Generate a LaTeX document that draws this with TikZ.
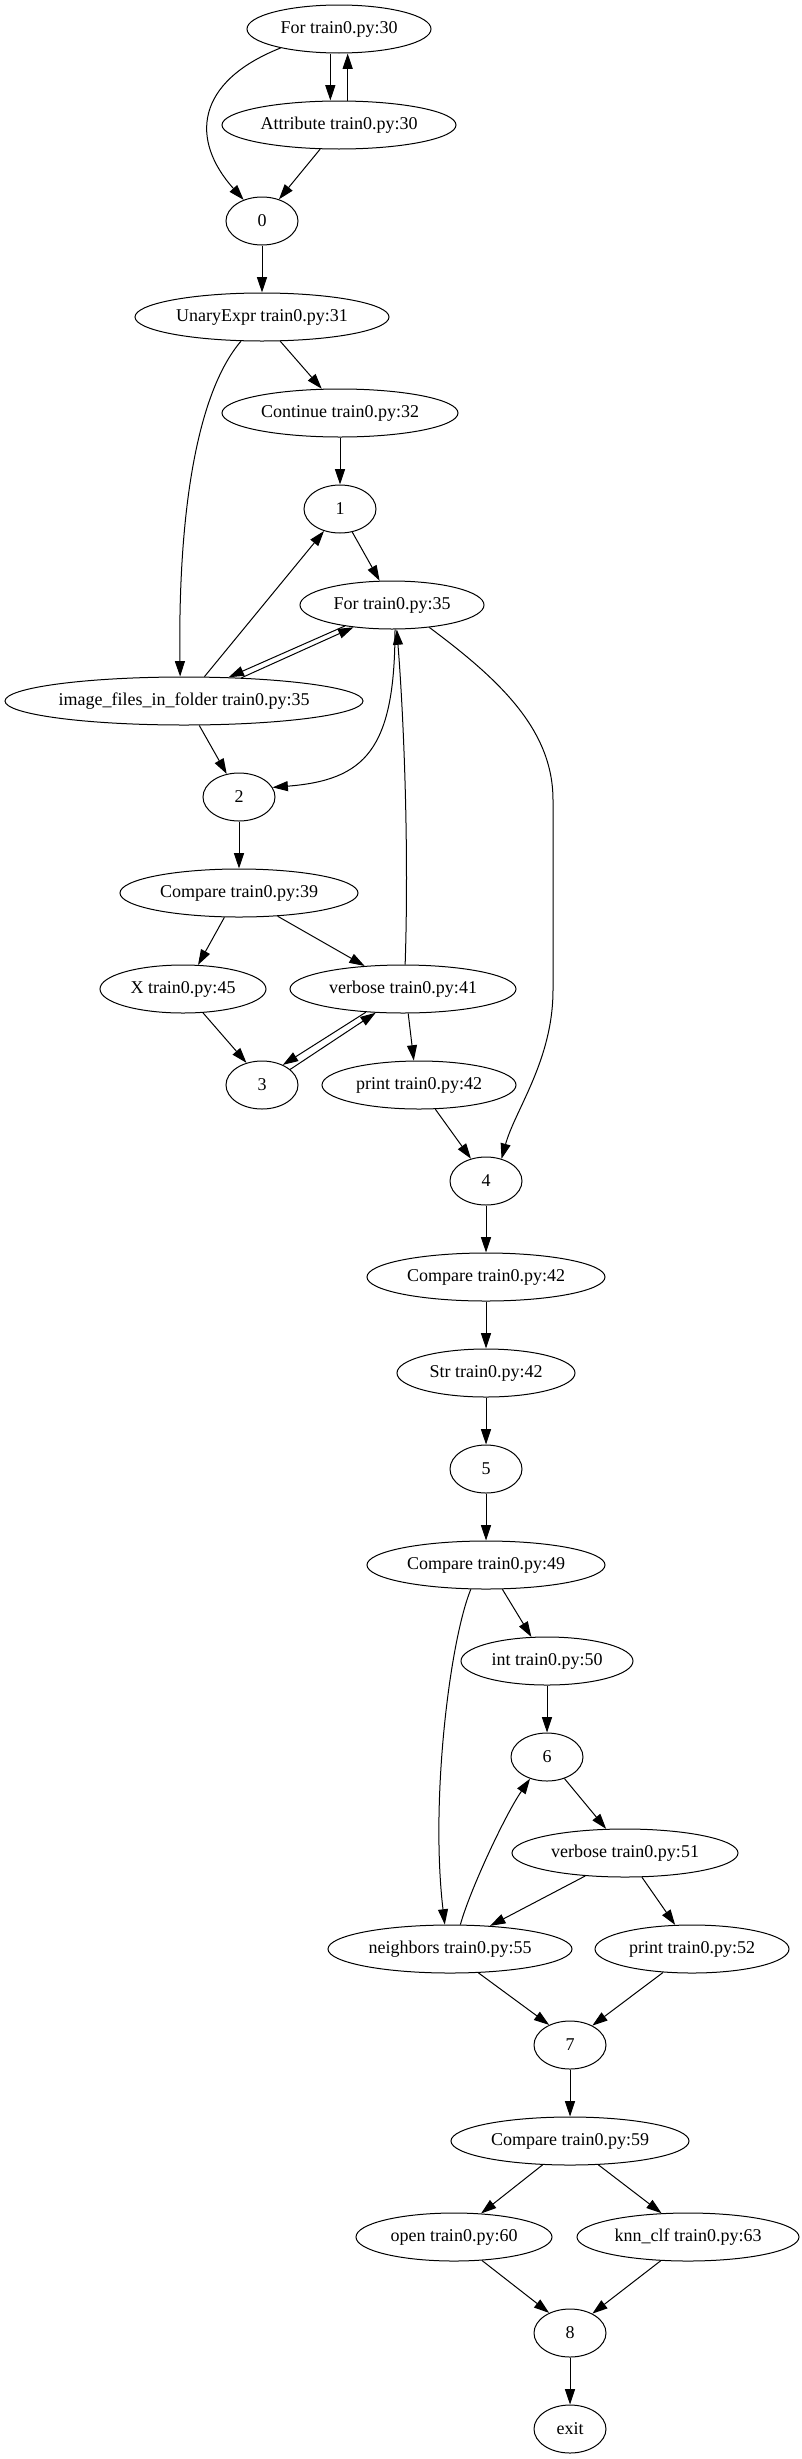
\documentclass[tikz,border=0pt]{standalone}
\usepackage{fontspec}
\setmainfont{Liberation Serif}
\usetikzlibrary{arrows.meta,shapes.geometric}
\tikzset{
  nd/.style={draw, ellipse, line width=0.75pt, inner xsep=-6pt, inner ysep=0pt,
             minimum height=36pt, font=\fontsize{13.5pt}{16pt}\selectfont},
  hw/.style={minimum width=1.5pt*#1},
  edge/.style={draw, line width=0.75pt, -{Triangle[length=11.5pt,width=7.5pt]}},
}
\begin{document}
\begin{tikzpicture}[x=0.75pt,y=-0.75pt]
\useasboundingbox (0,0) rectangle (801,2459);
\node[nd,hw=92] (for30) at (339,29) {For train0.py:30};
\node[nd,hw=117] (attr30) at (339,125) {Attribute train0.py:30};
\node[nd,hw=36] (n0) at (262,221) {0};
\node[nd,hw=127] (unary) at (262,317) {UnaryExpr train0.py:31};
\node[nd,hw=118] (cont) at (340,413) {Continue train0.py:32};
\node[nd,hw=36] (n1) at (340,509) {1};
\node[nd,hw=92] (for35) at (392,605) {For train0.py:35};
\node[nd,hw=179] (imgf) at (184,701) {image\_files\_in\_folder train0.py:35};
\node[nd,hw=36] (n2) at (239,797) {2};
\node[nd,hw=119] (cmp39) at (239,893) {Compare train0.py:39};
\node[nd,hw=83] (x45) at (183,989) {X train0.py:45};
\node[nd,hw=113] (verb41) at (403,989) {verbose train0.py:41};
\node[nd,hw=36] (n3) at (262,1085) {3};
\node[nd,hw=97] (print42) at (419,1085) {print train0.py:42};
\node[nd,hw=36] (n4) at (486,1181) {4};
\node[nd,hw=119] (cmp42) at (486,1277) {Compare train0.py:42};
\node[nd,hw=89] (str42) at (486,1373) {Str train0.py:42};
\node[nd,hw=36] (n5) at (486,1469) {5};
\node[nd,hw=119] (cmp49) at (486,1565) {Compare train0.py:49};
\node[nd,hw=86] (int50) at (547,1661) {int train0.py:50};
\node[nd,hw=36] (n6) at (547,1757) {6};
\node[nd,hw=113] (verb51) at (625,1853) {verbose train0.py:51};
\node[nd,hw=122] (nb55) at (450,1949) {neighbors train0.py:55};
\node[nd,hw=97] (print52) at (692,1949) {print train0.py:52};
\node[nd,hw=36] (n7) at (570,2045) {7};
\node[nd,hw=119] (cmp59) at (570,2141) {Compare train0.py:59};
\node[nd,hw=98] (open60) at (454,2237) {open train0.py:60};
\node[nd,hw=111] (knn63) at (688,2237) {knn\_clf train0.py:63};
\node[nd,hw=36] (n8) at (570,2333) {8};
\node[nd,hw=36] (exit) at (570,2429) {exit};

\draw[edge] (for30.-162) .. controls (195,82) and (190,140) .. (n0.131);
\draw[edge] ([xshift=-6.5pt]for30.south) -- ([xshift=-6.5pt]attr30.north);
\draw[edge] ([xshift=6.5pt]attr30.north) -- ([xshift=6.5pt]for30.south);
\draw[edge] (attr30.-128) -- (n0.52);
\draw[edge] (n0) -- (unary);
\draw[edge] (unary.-53) -- (cont.127);
\draw[edge] (unary.-131) .. controls (195,395) and (178,520) .. (imgf.99);
\draw[edge] (cont) -- (n1);
\draw[edge] (n1.-62) -- (for35.117);
\draw[edge] (imgf.50) -- (n1.-126);
\draw[edge] (for35.-156) -- (imgf.28);
\draw[edge] (imgf.22) -- (for35.-150);
\draw[edge] (for35.-83) .. controls (395,750) and (365,780) .. (n2.16);
\draw[edge] (verb41.85) .. controls (409,850) and (404,720) .. (for35.-79);
\draw[edge] (for35.-31) .. controls (500,680) and (553,730) .. (553,800) -- (553,990) .. controls (553,1060) and (515,1110) .. (n4.55);
\draw[edge] (imgf.-58) -- (n2.118);
\draw[edge] (n2) -- (cmp39);
\draw[edge] (cmp39.-121) -- (x45.58);
\draw[edge] (cmp39.-31) -- (verb41.149);
\draw[edge] (x45.-50) -- (n3.125);
\draw[edge] (verb41.-148) -- (n3.44);
\draw[edge] (n3.29) -- (verb41.-139);
\draw[edge] (verb41.-78) -- (print42.102);
\draw[edge] (print42.-56) -- (n4.124);
\draw[edge] (n4) -- (cmp42);
\draw[edge] (cmp42) -- (str42);
\draw[edge] (str42) -- (n5);
\draw[edge] (n5) -- (cmp49);
\draw[edge] (cmp49.-56) -- (int50.123);
\draw[edge] (cmp49.-122) .. controls (450,1640) and (430,1800) .. (nb55.102);
\draw[edge] (int50) -- (n6);
\draw[edge] (nb55.67) .. controls (470,1890) and (505,1815) .. (n6.-128);
\draw[edge] (n6.-51) -- (verb51.128);
\draw[edge] (verb51.-150) -- (nb55.30);
\draw[edge] (verb51.-55) -- (print52.125);
\draw[edge] (nb55.-40) -- (n7.136);
\draw[edge] (print52.-141) -- (n7.41);
\draw[edge] (n7) -- (cmp59);
\draw[edge] (cmp59.-139) -- (open60.41);
\draw[edge] (cmp59.-40) -- (knn63.138);
\draw[edge] (open60.-40) -- (n8.136);
\draw[edge] (knn63.-139) -- (n8.41);
\draw[edge] (n8) -- (exit);
\end{tikzpicture}
\end{document}
